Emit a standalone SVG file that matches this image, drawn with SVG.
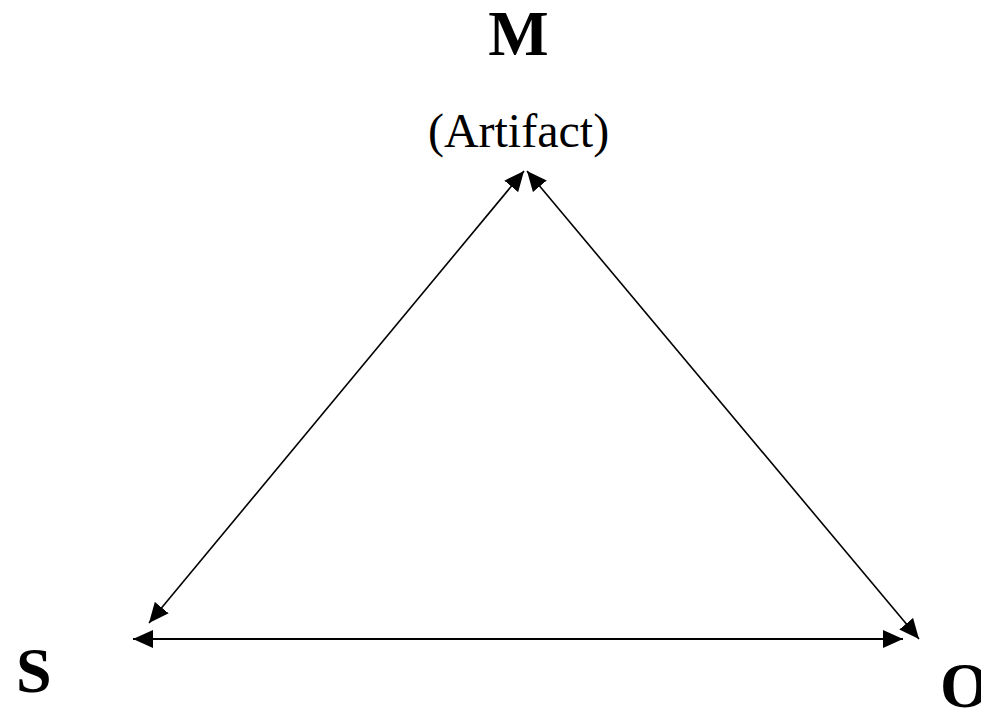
<svg xmlns="http://www.w3.org/2000/svg" width="981" height="711" viewBox="0 0 981 711">
  <style>
    .lbl { font-family: "Liberation Serif", "Times New Roman", serif; fill: #000; }
    .big { font-size: 64px; font-weight: bold; }
    .sub { font-size: 48px; }
    .conn { stroke: #000; stroke-width: 1.6; fill: none; marker-start: url(#ah); marker-end: url(#ah); }
  </style>
  <defs>
    <marker id="ah" viewBox="0 0 20 18" refX="20" refY="9" markerWidth="20" markerHeight="18" markerUnits="userSpaceOnUse" orient="auto-start-reverse">
      <path d="M0,0 L20,9 L0,18 z" fill="#000"/>
    </marker>
  </defs>
  <rect width="981" height="711" fill="#fff"/>
  <g id="connectors">
    <line class="conn" x1="524" y1="171" x2="149" y2="623"/>
    <line class="conn" x1="527" y1="171" x2="919" y2="639"/>
    <line class="conn" x1="133" y1="639" x2="903" y2="639" style="stroke-width:2"/>
  </g>
  <g id="node-M">
    <text class="lbl big" x="518.5" y="55" text-anchor="middle">M</text>
    <text class="lbl sub" x="518.5" y="147" text-anchor="middle">(Artifact)</text>
  </g>
  <g id="node-S">
    <text class="lbl big" x="16" y="692">S</text>
  </g>
  <g id="node-O">
    <text class="lbl big" x="940" y="707">O</text>
  </g>
</svg>
